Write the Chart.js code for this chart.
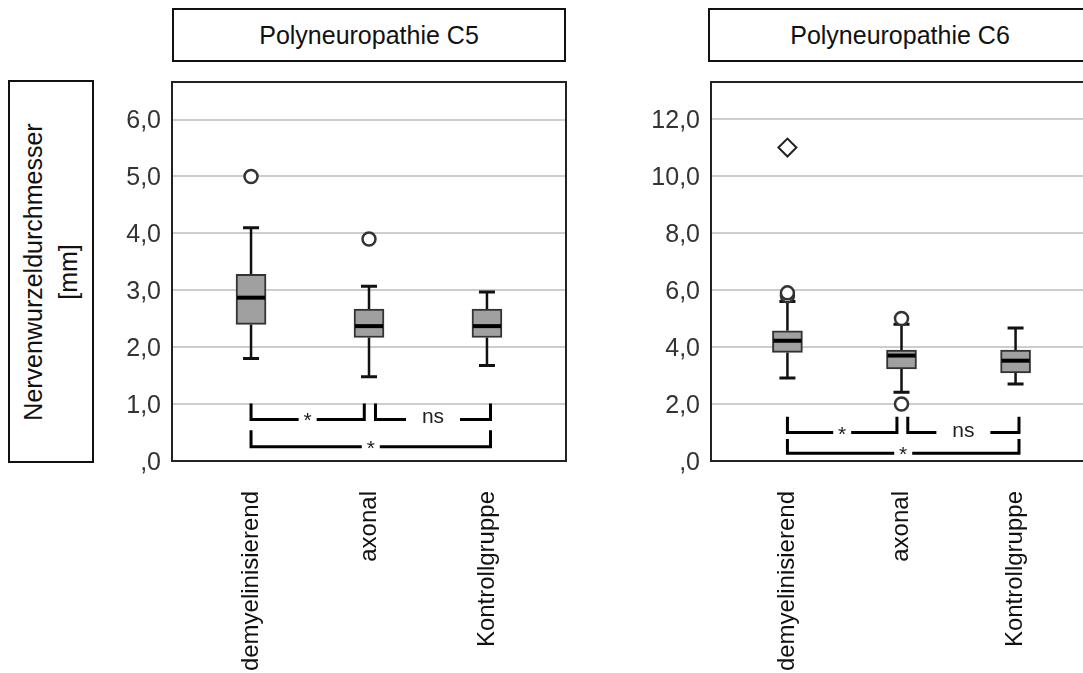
<!DOCTYPE html>
<html>
<head>
<meta charset="utf-8">
<title>Nervenwurzeldurchmesser C5 / C6</title>
<script src="https://cdn.jsdelivr.net/npm/chart.js@4.4.0/dist/chart.umd.min.js"></script>
<style>
  html, body { margin: 0; padding: 0; background: #fff; overflow: hidden; width: 1083px; height: 673px; }
  body { position: relative; font-family: Arial, "Liberation Sans", sans-serif; }
  .box { position: absolute; border: 2px solid #111; box-sizing: border-box; background: #fff; }
  .title { display: flex; align-items: center; justify-content: center; font-size: 25px; color: #111; }
  .ylabel { position: absolute; left: 50%; top: 50%; transform: translate(-50%, -50%) rotate(-90deg);
            white-space: nowrap; text-align: center; font-size: 25px; line-height: 35px; color: #111; }
  canvas { position: absolute; top: 0; }
</style>
</head>
<body>

<div class="box" style="left:8px; top:80px; width:86px; height:383px;">
  <div class="ylabel">Nervenwurzeldurchmesser<br>[mm]</div>
</div>
<div class="box title" style="left:172px; top:8px; width:394px; height:54px;">Polyneuropathie C5</div>
<div class="box title" style="left:708px; top:8px; width:384px; height:54px;">Polyneuropathie C6</div>

<canvas id="c5" width="480" height="673" style="left:100px;"></canvas>
<canvas id="c6" width="500" height="673" style="left:640px;"></canvas>

<script>
const categories = ['demyelinisierend', 'axonal', 'Kontrollgruppe'];

// C5 five-number summaries
const c5Min    = [1.8, 1.48, 1.68];
const c5Q1     = [2.4, 2.17, 2.17];
const c5Median = [2.87, 2.37, 2.37];
const c5Q3     = [3.28, 2.67, 2.67];
const c5Max    = [4.1, 3.07, 2.97];
const c5OutlierGroup = [1, 2];
const c5OutlierValue = [5.0, 3.9];
const c5Ticks = [0, 1, 2, 3, 4, 5, 6];

// C6 five-number summaries
const c6Min    = [2.91, 2.41, 2.7];
const c6Q1     = [3.81, 3.23, 3.09];
const c6Median = [4.22, 3.7, 3.52];
const c6Q3     = [4.57, 3.89, 3.89];
const c6Max    = [5.6, 4.8, 4.67];
const c6OutlierGroup = [1, 1, 2, 2];
const c6OutlierValue = [5.8, 5.9, 5.0, 2.0];
const c6ExtremeGroup = [1];
const c6ExtremeValue = [11.0];
const c6Ticks = [0, 2, 4, 6, 8, 10, 12];

// significance brackets (group positions, label, line level, tick top)
const bracketFrom  = [1, 2.055, 1];
const bracketTo    = [1.96, 3.03, 3.03];
const bracketLabel = ['*', 'ns', '*'];
const c5BracketLevel = [0.73, 0.73, 0.25];
const c5BracketTop   = [1.01, 1.01, 0.54];
const c6BracketLevel = [1.0, 1.0, 0.27];
const c6BracketTop   = [1.55, 1.55, 0.77];

const FONT = 'Arial, "Liberation Sans", sans-serif';

function fmtTick(v) {
  return v.toFixed(1).replace('.', ',').replace(/^0/, '');
}

// whiskers below the boxes, medians on top
function boxPlotPlugin(s) {
  return {
    id: 'boxPlot',
    beforeDatasetsDraw(chart) {
      const {ctx, scales: {x, y}} = chart;
      ctx.save();
      ctx.strokeStyle = '#111';
      s.min.forEach((lo, i) => {
        const px = x.getPixelForValue(i + 1);
        const top = y.getPixelForValue(s.max[i]);
        const bottom = y.getPixelForValue(lo);
        ctx.lineWidth = 2.5;
        ctx.beginPath();
        ctx.moveTo(px, top); ctx.lineTo(px, y.getPixelForValue(s.q3[i]));
        ctx.moveTo(px, bottom); ctx.lineTo(px, y.getPixelForValue(s.q1[i]));
        ctx.stroke();
        ctx.lineWidth = 3;
        ctx.beginPath();
        ctx.moveTo(px - 8, top); ctx.lineTo(px + 8, top);
        ctx.moveTo(px - 8, bottom); ctx.lineTo(px + 8, bottom);
        ctx.stroke();
      });
      ctx.restore();
    },
    afterDatasetsDraw(chart) {
      const {ctx, scales: {x, y}} = chart;
      ctx.save();
      ctx.strokeStyle = '#000';
      ctx.lineWidth = 4;
      s.median.forEach((m, i) => {
        const px = x.getPixelForValue(i + 1);
        const py = y.getPixelForValue(m);
        ctx.beginPath();
        ctx.moveTo(px - 14, py); ctx.lineTo(px + 14, py);
        ctx.stroke();
      });
      ctx.restore();
    },
    afterDraw(chart) {
      const {ctx, chartArea: a, scales: {x, y}} = chart;
      ctx.save();
      // plot frame
      ctx.strokeStyle = '#222';
      ctx.lineWidth = 2;
      ctx.strokeRect(a.left, a.top, a.right - a.left, a.bottom - a.top);
      // brackets
      ctx.strokeStyle = '#000';
      ctx.fillStyle = '#222';
      ctx.lineWidth = 3;
      ctx.textAlign = 'center';
      ctx.textBaseline = 'alphabetic';
      bracketLabel.forEach((label, i) => {
        const x0 = x.getPixelForValue(bracketFrom[i]);
        const x1 = x.getPixelForValue(bracketTo[i]);
        const yl = y.getPixelForValue(s.bracketLevel[i]);
        const yt = y.getPixelForValue(s.bracketTop[i]);
        const mid = (x0 + x1) / 2;
        const gap = label === 'ns' ? 27 : 9;
        ctx.beginPath();
        ctx.moveTo(x0, yt); ctx.lineTo(x0, yl); ctx.lineTo(mid - gap, yl);
        ctx.moveTo(mid + gap, yl); ctx.lineTo(x1, yl); ctx.lineTo(x1, yt);
        ctx.stroke();
        ctx.font = '21px ' + FONT;
        ctx.fillText(label, mid, label === 'ns' ? yl + 4 : yl + 8);
      });
      ctx.restore();
    }
  };
}

function makeChart(id, s) {
  const datasets = [
    {
      type: 'bar',
      data: categories.map((c, i) => ({x: i + 1, y: [s.q1[i], s.q3[i]]})),
      backgroundColor: '#a0a0a0',
      borderColor: '#333',
      borderWidth: 2,
      borderSkipped: false,
      barThickness: 30,
      order: 3
    },
    {
      type: 'scatter',
      data: s.outGroup.map((g, i) => ({x: g, y: s.outValue[i]})),
      pointStyle: 'circle',
      radius: 6.5,
      borderWidth: 2.5,
      borderColor: '#333',
      backgroundColor: '#fff',
      order: 1
    }
  ];
  if (s.extGroup) {
    datasets.push({
      type: 'scatter',
      data: s.extGroup.map((g, i) => ({x: g, y: s.extValue[i]})),
      pointStyle: 'rectRot',
      radius: 9,
      borderWidth: 2,
      borderColor: '#222',
      backgroundColor: '#fff',
      order: 1
    });
  }

  return new Chart(document.getElementById(id), {
    type: 'bar',
    data: {datasets},
    options: {
      responsive: false,
      animation: false,
      events: [],
      layout: {padding: {top: 82, right: s.padRight, left: 0, bottom: 0}},
      plugins: {legend: {display: false}, tooltip: {enabled: false}},
      scales: {
        x: {
          type: 'linear',
          offset: false,
          min: 0.33,
          max: 3.67,
          grid: {display: false, offset: false},
          border: {display: false},
          afterBuildTicks: sc => { sc.ticks = categories.map((c, i) => ({value: i + 1})); },
          afterFit: sc => { sc.height = 212; },
          ticks: {
            autoSkip: false,
            minRotation: 90,
            maxRotation: 90,
            padding: 22,
            color: '#111',
            font: {size: 24, family: FONT},
            callback: v => categories[Math.round(v) - 1]
          }
        },
        y: {
          type: 'linear',
          min: 0,
          max: s.yMax,
          afterBuildTicks: sc => { sc.ticks = s.ticks.map(v => ({value: v})); },
          afterFit: sc => { sc.width = s.axisWidth; },
          grid: {color: '#cdcdcd', lineWidth: 2, drawTicks: false},
          border: {display: false},
          ticks: {
            padding: 11,
            labelOffset: 2,
            color: '#333',
            font: {size: 25, family: FONT},
            callback: v => fmtTick(v)
          }
        }
      }
    },
    plugins: [boxPlotPlugin(s)]
  });
}

makeChart('c5', {
  min: c5Min, q1: c5Q1, median: c5Median, q3: c5Q3, max: c5Max,
  outGroup: c5OutlierGroup, outValue: c5OutlierValue,
  ticks: c5Ticks, yMax: 6.66, axisWidth: 72, padRight: 14,
  bracketLevel: c5BracketLevel, bracketTop: c5BracketTop
});

makeChart('c6', {
  min: c6Min, q1: c6Q1, median: c6Median, q3: c6Q3, max: c6Max,
  outGroup: c6OutlierGroup, outValue: c6OutlierValue,
  extGroup: c6ExtremeGroup, extValue: c6ExtremeValue,
  ticks: c6Ticks, yMax: 13.3, axisWidth: 71, padRight: 48,
  bracketLevel: c6BracketLevel, bracketTop: c6BracketTop
});
</script>
</body>
</html>
